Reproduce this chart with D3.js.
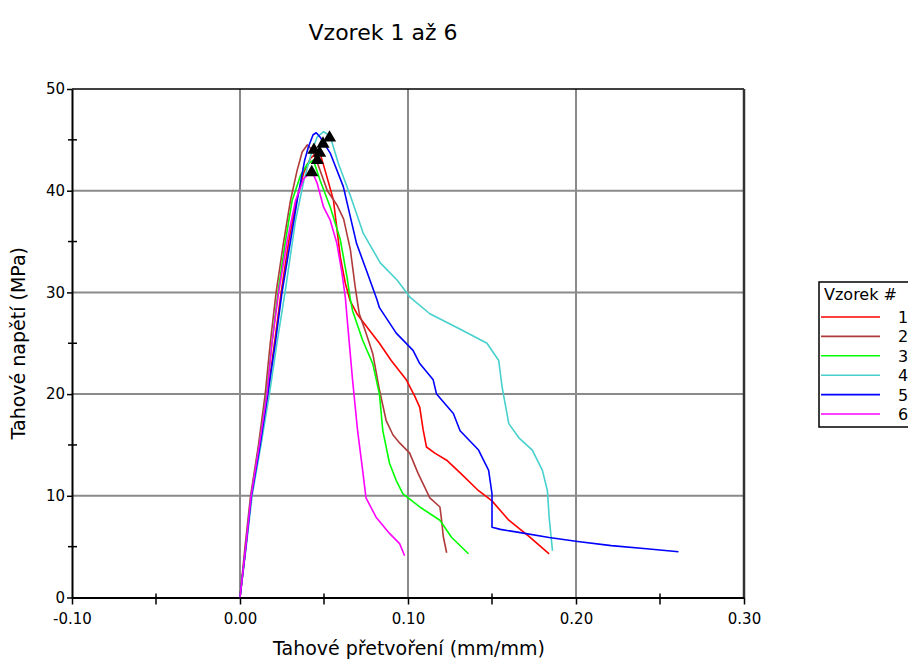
<!DOCTYPE html>
<html>
<head>
<meta charset="utf-8">
<script src="https://cdn.jsdelivr.net/npm/d3@7"></script>
<style>
  html, body { margin: 0; padding: 0; background: #fff; }
  svg { display: block; font-family: "DejaVu Sans", Verdana, sans-serif; }
</style>
</head>
<body>
<svg id="chart" width="908" height="662"></svg>
<script>
// Stress–strain curves, [strain (mm/mm), stress (MPa)]
const sample1 = [[0,0],[0.0035,5],[0.0068,10],[0.0118,15],[0.0165,20],[0.0205,25],[0.0245,30],[0.029,35],[0.0335,39],[0.038,41.8],[0.042,43.2],[0.0455,43.7],[0.048,43.5],[0.0508,41.9],[0.0556,39.1],[0.0597,33.5],[0.0627,30.9],[0.0655,29.2],[0.070,27.8],[0.076,26.5],[0.083,25],[0.090,23.3],[0.099,21.4],[0.104,19.8],[0.107,18.7],[0.109,16.5],[0.111,14.8],[0.116,14.2],[0.123,13.5],[0.132,12.1],[0.142,10.5],[0.150,9.5],[0.160,7.6],[0.172,6],[0.184,4.3]];
const sample2 = [[0,0],[0.003,5],[0.0063,10],[0.011,15],[0.015,20],[0.018,25],[0.0215,30],[0.026,35],[0.030,39],[0.034,42],[0.037,43.8],[0.040,44.5],[0.043,44],[0.047,42.3],[0.052,40],[0.0577,38.6],[0.0617,37.2],[0.0657,34.2],[0.0686,30.5],[0.071,27.9],[0.075,26],[0.079,24],[0.083,20.4],[0.087,17.4],[0.091,16],[0.095,15.2],[0.101,14.2],[0.106,12.2],[0.113,9.8],[0.119,8.9],[0.120,7.6],[0.121,6],[0.123,4.4]];
const sample3 = [[0,0],[0.0034,5],[0.0066,10],[0.0115,15],[0.0158,20],[0.019,25],[0.0226,30],[0.027,35],[0.031,39],[0.036,41.5],[0.040,42.6],[0.0437,43.0],[0.0477,41.0],[0.0537,38.4],[0.0597,35.2],[0.0637,31.5],[0.0655,29.5],[0.067,28.2],[0.073,25.3],[0.079,23],[0.083,20],[0.085,16.4],[0.089,13.2],[0.093,11.5],[0.097,10.2],[0.107,8.9],[0.119,7.6],[0.126,5.9],[0.136,4.3]];
const sample4 = [[0,0],[0.0037,5],[0.0072,10],[0.0125,15],[0.0175,20],[0.022,25],[0.0268,30],[0.033,37],[0.038,41],[0.043,44],[0.046,45.3],[0.0498,45.8],[0.0536,45.4],[0.0585,42.7],[0.0657,39.5],[0.0734,35.8],[0.0835,32.9],[0.0936,31.2],[0.1013,29.5],[0.113,27.9],[0.132,26.3],[0.147,25],[0.154,23.3],[0.156,20.7],[0.160,17.1],[0.166,15.7],[0.174,14.5],[0.180,12.5],[0.183,10.5],[0.184,7.9],[0.186,4.6]];
const sample5 = [[0,0],[0.0035,5],[0.0068,10],[0.012,15],[0.0165,20],[0.021,25],[0.025,30],[0.030,35],[0.034,39],[0.0385,43],[0.0407,44.3],[0.0435,45.5],[0.0454,45.7],[0.048,45.2],[0.0537,43.7],[0.0615,40.4],[0.0694,34.8],[0.0756,32],[0.0815,29.3],[0.083,28.5],[0.093,26],[0.103,24.3],[0.107,23],[0.115,21.4],[0.117,20],[0.127,18.1],[0.131,16.4],[0.142,14.5],[0.148,12.5],[0.150,10.2],[0.150,6.9],[0.155,6.7],[0.166,6.4],[0.184,5.9],[0.201,5.5],[0.221,5.1],[0.242,4.8],[0.261,4.5]];
const sample6 = [[0,0],[0.0034,5],[0.0066,10],[0.0115,15],[0.016,20],[0.019,25],[0.023,30],[0.028,35],[0.033,39],[0.038,41.2],[0.0429,41.9],[0.0458,40.8],[0.0497,38.4],[0.0537,37.1],[0.0577,34.8],[0.0607,31.9],[0.0627,29.5],[0.064,27],[0.067,21.4],[0.070,16.4],[0.073,12.5],[0.075,9.8],[0.081,7.9],[0.089,6.3],[0.095,5.3],[0.098,4.1]];

const sampleNames = ["1", "2", "3", "4", "5", "6"];
const sampleColors = ["#ff0000", "#b03a3a", "#00ff00", "#48d1cc", "#0000ff", "#ff00ff"];

// Maximum-stress markers per sample
const maxStrain = [0.0474, 0.0440, 0.0460, 0.0533, 0.0494, 0.0427];
const maxStress = [43.7, 44.0, 43.0, 45.2, 44.6, 41.8];

const xMajorTicks = [-0.10, 0.00, 0.10, 0.20, 0.30];
const xMinorTicks = [-0.05, 0.05, 0.15, 0.25];
const yMajorTicks = [0, 10, 20, 30, 40, 50];
const yMinorTicks = [5, 15, 25, 35, 45];

const titleText = "Vzorek 1 až 6";
const xTitle = "Tahové přetvoření (mm/mm)";
const yTitle = "Tahové napětí (MPa)";
const legendTitle = "Vzorek #";

const samples = [sample1, sample2, sample3, sample4, sample5, sample6];

const svg = d3.select("#chart");
const plotLeft = 72, plotRight = 744, plotTop = 89, plotBottom = 597.5;

const x = d3.scaleLinear().domain([-0.1, 0.3]).range([plotLeft, plotRight]);
const y = d3.scaleLinear().domain([0, 50]).range([plotBottom, plotTop]);

// strain labels use a plain hyphen for negatives
const fmtStrain = d => d3.format(".2f")(d).replace("\u2212", "-");

// grid
const grid = svg.append("g");
grid.selectAll("line.gx").data(xMajorTicks.filter(d => d > -0.1 && d < 0.3)).join("line")
  .attr("x1", d => x(d)).attr("x2", d => x(d)).attr("y1", plotTop).attr("y2", plotBottom)
  .attr("stroke", "#8a8a8a").attr("stroke-width", 2);
grid.selectAll("line.gy").data(yMajorTicks.filter(d => d > 0 && d < 50)).join("line")
  .attr("x1", plotLeft).attr("x2", plotRight).attr("y1", d => y(d)).attr("y2", d => y(d))
  .attr("stroke", "#8a8a8a").attr("stroke-width", 2);

// curves
const line = d3.line().x(d => x(d[0])).y(d => y(d[1]));
svg.append("g").selectAll("path").data(samples).join("path")
  .attr("d", line)
  .attr("fill", "none")
  .attr("stroke", (d, i) => sampleColors[i])
  .attr("stroke-width", 1.6)
  .attr("stroke-linejoin", "round");

// markers
const tri = d3.symbol().type(d3.symbolTriangle).size(75);
svg.append("g").selectAll("path").data(maxStrain).join("path")
  .attr("d", tri)
  .attr("transform", (d, i) => `translate(${x(d)},${y(maxStress[i])})`)
  .attr("fill", "#000");

// frame
svg.append("line").attr("x1", plotLeft).attr("x2", plotRight).attr("y1", plotTop).attr("y2", plotTop)
  .attr("stroke", "#000").attr("stroke-width", 1.5);
svg.append("line").attr("x1", plotRight).attr("x2", plotRight).attr("y1", plotTop).attr("y2", plotBottom)
  .attr("stroke", "#333").attr("stroke-width", 2.5);

// x axis
const xAxis = svg.append("g").attr("transform", `translate(0,${plotBottom})`)
  .call(d3.axisBottom(x).tickValues(xMajorTicks).tickSize(7).tickSizeOuter(0)
    .tickFormat(fmtStrain));
xAxis.select(".domain").attr("stroke", "#000").attr("stroke-width", 2);
xAxis.selectAll(".tick line").attr("stroke", "#000").attr("stroke-width", 1.5);
xAxis.selectAll(".tick text").attr("font-size", 15).attr("fill", "#000")
  .attr("font-family", "DejaVu Sans, sans-serif").attr("y", 12).attr("dy", "0.95em");
xAxis.selectAll("line.minor").data(xMinorTicks).join("line").attr("class", "minor")
  .attr("x1", d => x(d)).attr("x2", d => x(d)).attr("y1", -4).attr("y2", 7)
  .attr("stroke", "#000").attr("stroke-width", 1.5);

// y axis
const yAxis = svg.append("g").attr("transform", `translate(${plotLeft},0)`)
  .call(d3.axisLeft(y).tickValues(yMajorTicks).tickSize(5).tickSizeOuter(0)
    .tickFormat(d3.format("d")));
yAxis.select(".domain").attr("stroke", "#000").attr("stroke-width", 2);
yAxis.selectAll(".tick line").attr("stroke", "#000").attr("stroke-width", 1.5);
yAxis.selectAll(".tick text").attr("font-size", 15).attr("fill", "#000")
  .attr("font-family", "DejaVu Sans, sans-serif").attr("x", -7);
yAxis.selectAll("line.minor").data(yMinorTicks).join("line").attr("class", "minor")
  .attr("x1", -4).attr("x2", 5).attr("y1", d => y(d)).attr("y2", d => y(d))
  .attr("stroke", "#000").attr("stroke-width", 1.5);

// titles
svg.append("text").attr("x", 383).attr("y", 40).attr("text-anchor", "middle")
  .attr("font-size", 22).attr("fill", "#000").text(titleText);
svg.append("text").attr("x", 409).attr("y", 655).attr("text-anchor", "middle")
  .attr("font-size", 19).attr("fill", "#000").text(xTitle);
svg.append("text").attr("transform", `translate(25,${(plotTop + plotBottom) / 2}) rotate(-90)`)
  .attr("text-anchor", "middle").attr("font-size", 19).attr("fill", "#000").text(yTitle);

// legend
const lg = svg.append("g");
lg.append("rect").attr("x", 819).attr("y", 282).attr("width", 100).attr("height", 145)
  .attr("fill", "#fff").attr("stroke", "#000").attr("stroke-width", 1.5);
lg.append("text").attr("x", 824).attr("y", 300).attr("font-size", 16).attr("fill", "#000")
  .text(legendTitle);
const items = lg.selectAll("g.item").data(sampleNames).join("g")
  .attr("transform", (d, i) => `translate(0,${317 + i * 19.4})`);
items.append("line").attr("x1", 821).attr("x2", 880).attr("y1", 0).attr("y2", 0)
  .attr("stroke", (d, i) => sampleColors[i]).attr("stroke-width", 1.6);
items.append("text").attr("x", 898).attr("y", 6).attr("font-size", 16).attr("fill", "#000")
  .text(d => d);
</script>
</body>
</html>
